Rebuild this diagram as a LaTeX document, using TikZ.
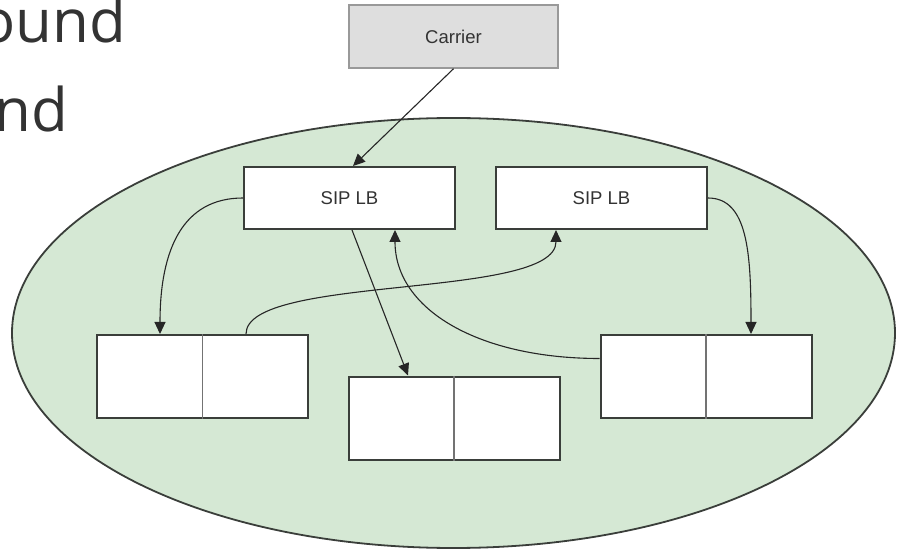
\documentclass[tikz,border=0pt]{standalone}
\usepackage{fontspec}
\setmainfont{Liberation Sans}
\newfontfamily\slidefont{Open Sans}
\usetikzlibrary{arrows.meta,shapes.geometric}
\definecolor{zonegreen}{RGB}{213,232,212}
\definecolor{edgegray}{RGB}{58,62,58}
\definecolor{carriergray}{RGB}{222,222,222}
\definecolor{slidetext}{RGB}{51,51,51}

\begin{document}
\begin{tikzpicture}[
			x=1pt,y=-1pt,
			zone/.style={
				ellipse,
				draw=edgegray,
				line width=1.8pt,
				fill=zonegreen,
				minimum width=883pt,
				minimum height=430pt,
				inner sep=0pt
			},
			carrier/.style={
				draw=black!40,
				line width=1.5pt,
				fill=carriergray,
				minimum width=209pt,
				minimum height=63pt,
				inner sep=0pt,
				text=slidetext,
				font=\fontsize{18.5}{20}\selectfont
			},
			balancer/.style={
				draw=edgegray,
				line width=2pt,
				fill=white,
				minimum width=211pt,
				minimum height=62pt,
				inner sep=0pt,
				text=slidetext,
				font=\fontsize{18.5}{20}\selectfont
			},
			server/.style={
				draw=edgegray,
				line width=2pt,
				fill=white,
				minimum width=211pt,
				minimum height=83pt,
				inner sep=0pt
			},
			divider/.style={
				draw=black!55,
				line width=1.5pt
			},
			heading/.style={
				anchor=base east,
				inner sep=0pt,
				text=slidetext,
				font=\slidefont\fontsize{60}{60}\selectfont
			},
			flow/.style={
				-{Triangle[length=12pt,width=11pt]},
				line width=1.1pt,
				draw=black!85
			}
			]
			
			\useasboundingbox (0,0) rectangle (905,553);
			
			% Slide text, cut off at the left
			\node[heading] (word1) at (126,43) {ound};
			\node[heading] (word2) at (68,132) {nd};
			
			% Cluster
			\node[zone] (zone) at (453.5,333) {};
			
			% Carrier
			\node[carrier] (carrier) at (453.5,36.5) {Carrier};
			
			% Load balancers
			\node[balancer] (lbA) at (349.5,198) {SIP LB};
			\node[balancer] (lbB) at (601.5,198) {SIP LB};
			
			% Servers
			\node[server] (srvA) at (202.5,376.5) {};
			\node[server] (srvB) at (454,418) {};
			\node[server] (srvC) at (706,376.5) {};
			
			\draw[divider] (srvA.north) -- (srvA.south);
			\draw[divider] (srvB.north) -- (srvB.south);
			\draw[divider] (srvC.north) -- (srvC.south);
			
			% Carrier to first balancer
			\draw[flow]
			(carrier.south) -- ([xshift=3.5pt]lbA.north);
			
			% Balancers to servers
			\draw[flow]
			(lbA.west) .. controls +(-60,0) and +(0,-85) .. ([xshift=-42.5pt]srvA.north);
			
			\draw[flow]
			([xshift=2.5pt]lbA.south) -- ([xshift=-46pt]srvB.north);
			
			\draw[flow]
			(lbB.east) .. controls +(40,0) and +(0,-80) .. ([xshift=45pt]srvC.north);
			
			% Servers back to balancers
			\draw[flow]
			([xshift=43.5pt]srvA.north) .. controls +(0,-60) and +(0,70) .. ([xshift=-45.5pt]lbB.south);
			
			\draw[flow]
			([yshift=18pt]srvC.west) .. controls +(-120,0) and +(0,80) .. ([xshift=45.5pt]lbA.south);
			
		\end{tikzpicture}
\end{document}
